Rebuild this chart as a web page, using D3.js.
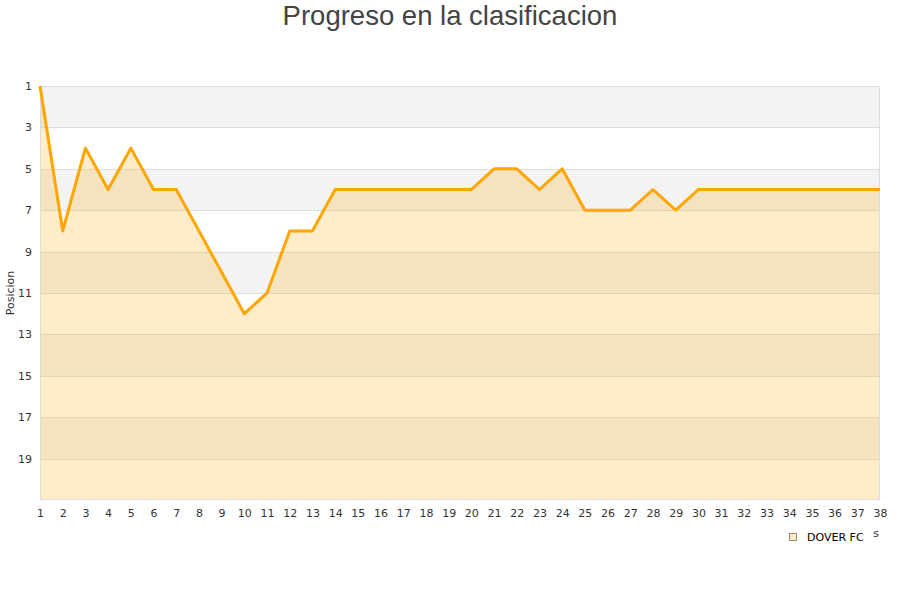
<!DOCTYPE html>
<html><head><meta charset="utf-8">
<script src="https://cdn.jsdelivr.net/npm/d3@7/dist/d3.min.js"></script>
<style>body{margin:0;background:#fff}svg{display:block}</style>
</head><body>
<script>
const title = "Progreso en la clasificacion";
const seriesName = "DOVER FC";
const jornadas = d3.range(1, 39);
const posiciones = [1,8,4,6,4,6,6,8,10,12,11,8,8,6,6,6,6,6,6,6,5,5,6,5,7,7,7,6,7,6,6,6,6,6,6,6,6,6];
const yTicks = [1,3,5,7,9,11,13,15,17,19];
const yTitle = "Posicion";
const xTitle = "Jornadas";

const W = 900, H = 600;
const svg = d3.select("body").append("svg").attr("width", W).attr("height", H);
const pL = 40, pR = 880, pT = 86, pB = 500;

const x = d3.scaleLinear().domain([1, 38]).range([pL, pR]);
const y = d3.scaleLinear().domain([1, 21]).range([pT, pB]);

// background bands
const bands = d3.range(1, 21, 2);
svg.append("g").selectAll("rect").data(bands).join("rect")
  .attr("x", pL).attr("width", pR - pL)
  .attr("y", d => y(d)).attr("height", d => y(d + 2) - y(d))
  .attr("fill", (d, i) => i % 2 === 0 ? "#f3f3f3" : "#ffffff");

// grid lines
svg.append("g").selectAll("line").data(yTicks.slice(1)).join("line")
  .attr("x1", pL).attr("x2", pR)
  .attr("y1", d => Math.round(y(d)) + 0.5).attr("y2", d => Math.round(y(d)) + 0.5)
  .attr("stroke", "#dedede").attr("stroke-width", 1);

const data = jornadas.map((j, i) => ({j, p: posiciones[i]}));

// area
svg.append("path").datum(data)
  .attr("d", d3.area().x(d => x(d.j)).y0(y(21)).y1(d => y(d.p)))
  .attr("fill", "rgba(255,165,0,0.21)");

// border
svg.append("rect").attr("x", pL + 0.5).attr("y", pT + 0.5)
  .attr("width", pR - pL - 1).attr("height", pB - pT - 1)
  .attr("fill", "none").attr("stroke", "#dcdcdc");

// line
svg.append("path").datum(data)
  .attr("d", d3.line().x(d => x(d.j)).y(d => y(d.p)))
  .attr("fill", "none").attr("stroke", "#ffa500").attr("stroke-width", 3)
  .attr("stroke-linejoin", "round");

// y axis labels
const yAxis = d3.axisLeft(y).tickValues(yTicks).tickSize(0).tickPadding(8);
const gy = svg.append("g").attr("transform", `translate(${pL},0)`).call(yAxis);
gy.select(".domain").remove();
gy.selectAll("text").attr("font-family", "DejaVu Sans").attr("font-size", 11).attr("fill", "#333");

// x axis labels
const xAxis = d3.axisBottom(x).tickValues(jornadas).tickSize(0).tickPadding(9).tickFormat(d3.format("d"));
const gx = svg.append("g").attr("transform", `translate(0,${pB})`).call(xAxis);
gx.select(".domain").remove();
gx.selectAll("text").attr("font-family", "DejaVu Sans").attr("font-size", 11).attr("fill", "#333");

// y title
svg.append("text").attr("transform", `translate(14,${(pT + pB) / 2}) rotate(-90)`)
  .attr("text-anchor", "middle").attr("font-family", "DejaVu Sans").attr("font-size", 11)
  .attr("fill", "#333").text(yTitle);

// x title (partly hidden behind legend)
svg.append("text").attr("x", 879).attr("y", 537).attr("text-anchor", "end")
  .attr("font-family", "DejaVu Sans").attr("font-size", 11).attr("fill", "#333").text(xTitle);

// legend
const lg = svg.append("g");
lg.append("rect").attr("x", 782).attr("y", 528.5).attr("width", 91).attr("height", 18).attr("fill", "#fff");
lg.append("rect").attr("x", 789.5).attr("y", 533.5).attr("width", 7).attr("height", 7)
  .attr("fill", "#feecc9").attr("stroke", "#a08a6a").attr("stroke-width", 1);
lg.append("text").attr("x", 807).attr("y", 540.5).attr("font-family", "DejaVu Sans")
  .attr("font-size", 11).attr("fill", "#000").text(seriesName);

// title
svg.append("text").attr("x", W / 2).attr("y", 25).attr("text-anchor", "middle")
  .attr("font-family", "Liberation Sans, Arial").attr("font-size", 27.5).attr("fill", "#444").text(title);
</script>
</body></html>
